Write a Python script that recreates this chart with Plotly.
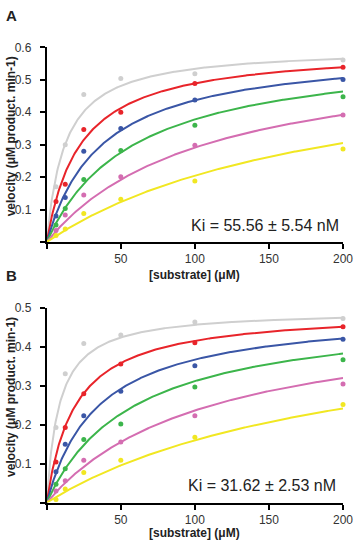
import numpy as np
import plotly.graph_objects as go

# ---------------- data ----------------
substrate = [6.25, 12.5, 25, 50, 100, 200]
x_ticks = [0, 50, 100, 150, 200]
x_ticklabels = ["", "50", "100", "150", "200"]
series_names = ["0", "I1", "I2", "I3", "I4", "I5"]
colors = ["#cfcfcf", "#e8242a", "#3a56a6", "#3cb54b", "#d46db1", "#f1e722"]

# Panel A measured velocities
A_grey = [0.170, 0.300, 0.455, 0.504, 0.519, 0.561]
A_red = [0.125, 0.178, 0.347, 0.400, 0.489, 0.539]
A_blue = [0.080, 0.137, 0.280, 0.350, 0.438, 0.501]
A_green = [0.052, 0.103, 0.193, 0.282, 0.360, 0.448]
A_pink = [0.035, 0.083, 0.145, 0.201, 0.298, 0.392]
A_yellow = [0.020, 0.040, 0.088, 0.132, 0.188, 0.287]
# Panel A fitted Michaelis-Menten parameters
A_vmax = 0.60
A_km = [12.3, 22.6, 37.2, 58.7, 106.0, 193.0]
A_y_ticks = [0, 0.1, 0.2, 0.3, 0.4, 0.5, 0.6]
A_y_ticklabels = ["", "0.1", "0.2", "0.3", "0.4", "0.5", "0.6"]
A_ki = "Ki = 55.56 ± 5.54 nM"

# Panel B measured velocities
B_grey = [0.193, 0.331, 0.409, 0.431, 0.464, 0.473]
B_red = [0.104, 0.193, 0.280, 0.356, 0.411, 0.452]
B_blue = [0.079, 0.150, 0.223, 0.286, 0.352, 0.420]
B_green = [0.047, 0.087, 0.162, 0.202, 0.297, 0.367]
B_pink = [0.030, 0.056, 0.109, 0.156, 0.223, 0.305]
B_yellow = [0.008, 0.035, 0.077, 0.109, 0.168, 0.252]
B_vmax = 0.495
B_km = [8.3, 19.0, 34.6, 58.5, 109.0, 209.0]
B_y_ticks = [0, 0.1, 0.2, 0.3, 0.4, 0.5]
B_y_ticklabels = ["", "0.1", "0.2", "0.3", "0.4", "0.5"]
B_ki = "Ki = 31.62 ± 2.53 nM"

# ---------------- figure ----------------
W, H = 355, 546
ML, MR, MT, MB = 0, 8, 0, 0
FONT = "Liberation Sans, Arial, sans-serif"

fig = go.Figure()

panels = [
    ("x", "y", [A_grey, A_red, A_blue, A_green, A_pink, A_yellow], A_vmax, A_km),
    ("x2", "y2", [B_grey, B_red, B_blue, B_green, B_pink, B_yellow], B_vmax, B_km),
]

s_fit = np.linspace(0, 200, 401)
for xa, ya, data, vmax, kms in panels:
    for name, col, vals, km in zip(series_names, colors, data, kms):
        fig.add_trace(go.Scatter(
            x=s_fit, y=vmax * s_fit / (km + s_fit), mode="lines",
            line=dict(color=col, width=2), xaxis=xa, yaxis=ya,
            showlegend=False, hoverinfo="skip"))
        fig.add_trace(go.Scatter(
            x=substrate, y=vals, mode="markers",
            marker=dict(color=col, size=5), xaxis=xa, yaxis=ya,
            showlegend=False, cliponaxis=False, name=name))


def px_x(p):
    return (p - ML) / (W - ML - MR)


def px_y(p):
    return (H - MB - p) / (H - MT - MB)


axis_common = dict(
    showline=True, linecolor="black", linewidth=2,
    ticks="outside", ticklen=5, tickwidth=2, tickcolor="black",
    showgrid=False, zeroline=False, ticklabeloverflow="allow",
    tickfont=dict(family=FONT, size=12, color="#333333"),
)

fig.update_layout(
    width=W, height=H,
    margin=dict(l=ML, r=MR, t=MT, b=MB),
    paper_bgcolor="white", plot_bgcolor="white",
    xaxis=dict(domain=[px_x(47), px_x(345)], range=[0, 200], anchor="y",
               tickvals=x_ticks, ticktext=x_ticklabels, **axis_common),
    yaxis=dict(domain=[px_y(238), px_y(41)], range=[0, 0.6], anchor="x",
               tickvals=A_y_ticks, ticktext=A_y_ticklabels,
               ticklabelstandoff=6, **axis_common),
    xaxis2=dict(domain=[px_x(47), px_x(345)], range=[0, 200], anchor="y2",
                tickvals=x_ticks, ticktext=x_ticklabels, **axis_common),
    yaxis2=dict(domain=[px_y(502), px_y(305)], range=[0, 0.5], anchor="x2",
                tickvals=B_y_ticks, ticktext=B_y_ticklabels,
                ticklabelstandoff=6, **axis_common),
)

ann = []
def add_text(text, x, y, size, bold=False, angle=0, xanchor="center"):
    ann.append(dict(
        text=f"<b>{text}</b>" if bold else text,
        x=px_x(x), y=px_y(y), xref="paper", yref="paper",
        xanchor=xanchor, yanchor="middle", showarrow=False, textangle=angle,
        font=dict(family=FONT, size=size, color="#222222")))

add_text("A", 4, 9, 15, bold=True, xanchor="left")
add_text("B", 4, 272, 15, bold=True, xanchor="left")
add_text("velocity (μM product. min-1)", 2, 131, 12, bold=True, angle=-90, xanchor="left")
add_text("velocity (μM product. min-1)", 2, 395, 12, bold=True, angle=-90, xanchor="left")
add_text("[substrate] (μM)", 196, 271, 12, bold=True)
add_text("[substrate] (μM)", 196, 533, 12, bold=True)
add_text(A_ki, 343, 221, 16, xanchor="right")
add_text(B_ki, 340, 485, 16, xanchor="right")
fig.update_layout(annotations=ann)

fig.write_html("out.html")
